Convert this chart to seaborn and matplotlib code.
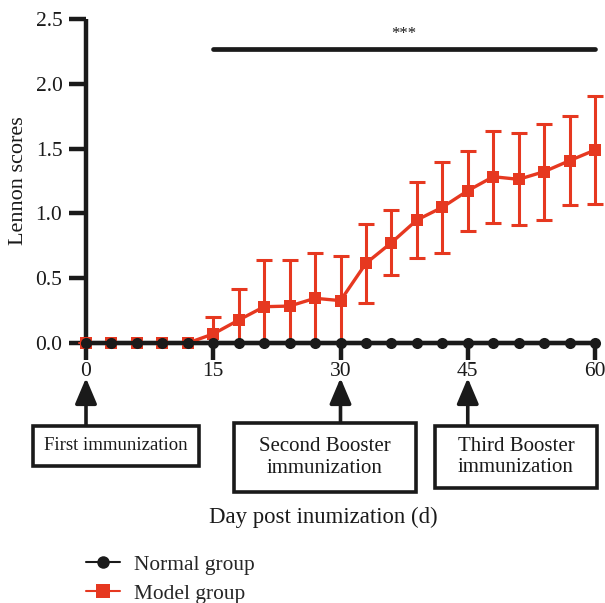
import numpy as np
import pandas as pd
import seaborn as sns
import matplotlib.pyplot as plt
from matplotlib.patches import Rectangle
from matplotlib.lines import Line2D

# Lennon scores every 3 days after the first immunization
days = [0, 3, 6, 9, 12, 15, 18, 21, 24, 27, 30, 33, 36, 39, 42, 45, 48, 51, 54, 57, 60]
normal_mean = [0.0] * 21
model_mean = [0.0, 0.0, 0.0, 0.0, 0.0, 0.07, 0.177, 0.28, 0.285, 0.345, 0.327,
              0.615, 0.774, 0.949, 1.047, 1.175, 1.283, 1.263, 1.322, 1.407, 1.489]
model_sd = [0.0, 0.0, 0.0, 0.0, 0.0, 0.13, 0.237, 0.36, 0.355, 0.35, 0.344,
            0.305, 0.25, 0.29, 0.35, 0.31, 0.355, 0.356, 0.37, 0.345, 0.42]
y_ticks = [0.0, 0.5, 1.0, 1.5, 2.0, 2.5]
x_ticks = [0, 15, 30, 45, 60]
group_names = ["Normal group", "Model group"]
events = ["First immunization", "Second Booster\nimmunization", "Third Booster\nimmunization"]
event_days = [0, 30, 45]
signif = "***"

RED = "#E63820"
BLACK = "#1a1a1a"

sns.set_theme(style="white")
plt.rcParams["font.family"] = ["Liberation Serif", "DejaVu Serif"]

df = pd.DataFrame({
    "day": days * 2,
    "score": normal_mean + model_mean,
    "group": [group_names[0]] * len(days) + [group_names[1]] * len(days),
})

W, H = 605, 603
fig = plt.figure(figsize=(W / 100, H / 100), dpi=100)
ax = fig.add_axes([86 / W, 1 - 343 / H, (595 - 86) / W, (343 - 19) / H])

# model group first so the normal group sits on top of it at zero
sns.lineplot(data=df[df.group == group_names[1]], x="day", y="score", ax=ax,
             color=RED, marker="s", markersize=9, markeredgewidth=0,
             linewidth=2.4, legend=False, zorder=3)
sns.lineplot(data=df[df.group == group_names[0]], x="day", y="score", ax=ax,
             color=BLACK, marker="o", markersize=8, markeredgewidth=0,
             linewidth=3, legend=False, zorder=5)
for ln in ax.lines:
    ln.set_clip_on(False)

eb = ax.errorbar(days, model_mean, yerr=model_sd, fmt="none", ecolor=RED,
                 elinewidth=2.2, capsize=5.5, capthick=2.2, zorder=2)
clip_rect = Rectangle((-0.05, 0), 1.1, 1.1, transform=ax.transAxes,
                      facecolor="none", edgecolor="none")
ax.add_patch(clip_rect)
for art in eb.lines[1] + eb.lines[2]:
    art.set_clip_path(clip_rect)

ax.set_xlim(0, 60)
ax.set_ylim(0, 2.5)
ax.set_xticks(x_ticks)
ax.set_yticks(y_ticks)
ax.set_yticklabels([f"{v:.1f}" for v in y_ticks])
for side in ["top", "right"]:
    ax.spines[side].set_visible(False)
for side in ["left", "bottom"]:
    ax.spines[side].set_linewidth(3.2)
    ax.spines[side].set_color(BLACK)
    ax.spines[side].set_capstyle("butt")
ax.tick_params(axis="both", which="major", direction="out", length=12,
               width=3.2, color=BLACK, labelsize=15.5, labelcolor=BLACK,
               bottom=True, left=True)
ax.tick_params(axis="y", pad=5)
ax.tick_params(axis="x", pad=2)

ax.set_ylabel("Lennon scores", fontsize=16, color=BLACK)
ax.yaxis.set_label_coords(-0.113, 0.5)
ax.set_xlabel("")

# significance bar over the model group
ax.plot([15, 60], [2.27, 2.27], color=BLACK, linewidth=3.4,
        solid_capstyle="round", clip_on=False)
ax.text(37.5, 2.32, signif, ha="center", va="bottom", fontsize=12, color=BLACK)

# immunization call-outs below the day axis
def fx(px):
    return px / W

def fy(py):
    return 1 - py / H

boxes = [(33, 426, 199, 466, 13.5), (234, 423, 416, 492, 15), (435, 426, 597, 488, 15)]
for d, label, (x0, y0, x1, y1, fs) in zip(event_days, events, boxes):
    xa = ax.transData.transform((d, 0))[0] / W
    fig.add_artist(Rectangle((fx(x0), fy(y1)), fx(x1) - fx(x0), fy(y0) - fy(y1),
                             transform=fig.transFigure, facecolor="white",
                             edgecolor=BLACK, linewidth=2.6))
    fig.text((fx(x0) + fx(x1)) / 2, (fy(y0) + fy(y1)) / 2, label, ha="center",
             va="center", fontsize=fs, linespacing=1.2, color=BLACK)
    ax.annotate("", xy=(xa, fy(378)), xytext=(xa, fy(y0)),
                xycoords="figure fraction", textcoords="figure fraction",
                arrowprops=dict(arrowstyle="-|>,head_length=1.3,head_width=0.55",
                                color=BLACK, linewidth=2.6, shrinkA=0, shrinkB=0))

fig.text(fx(323), fy(517), "Day post inumization (d)", ha="center", va="center",
         fontsize=16.4, color=BLACK)

handles = [
    Line2D([], [], color=BLACK, linewidth=1.5, marker="o", markersize=9,
           markeredgewidth=0),
    Line2D([], [], color=RED, linewidth=1.5, marker="s", markersize=10,
           markeredgewidth=0),
]
fig.legend(handles, group_names, loc="upper left", bbox_to_anchor=(fx(86), fy(555)),
           frameon=False, fontsize=15.4, handlelength=1.6, handletextpad=0.65,
           labelspacing=0.4, borderaxespad=0, borderpad=0)

fig.savefig("out.png", dpi=100)
